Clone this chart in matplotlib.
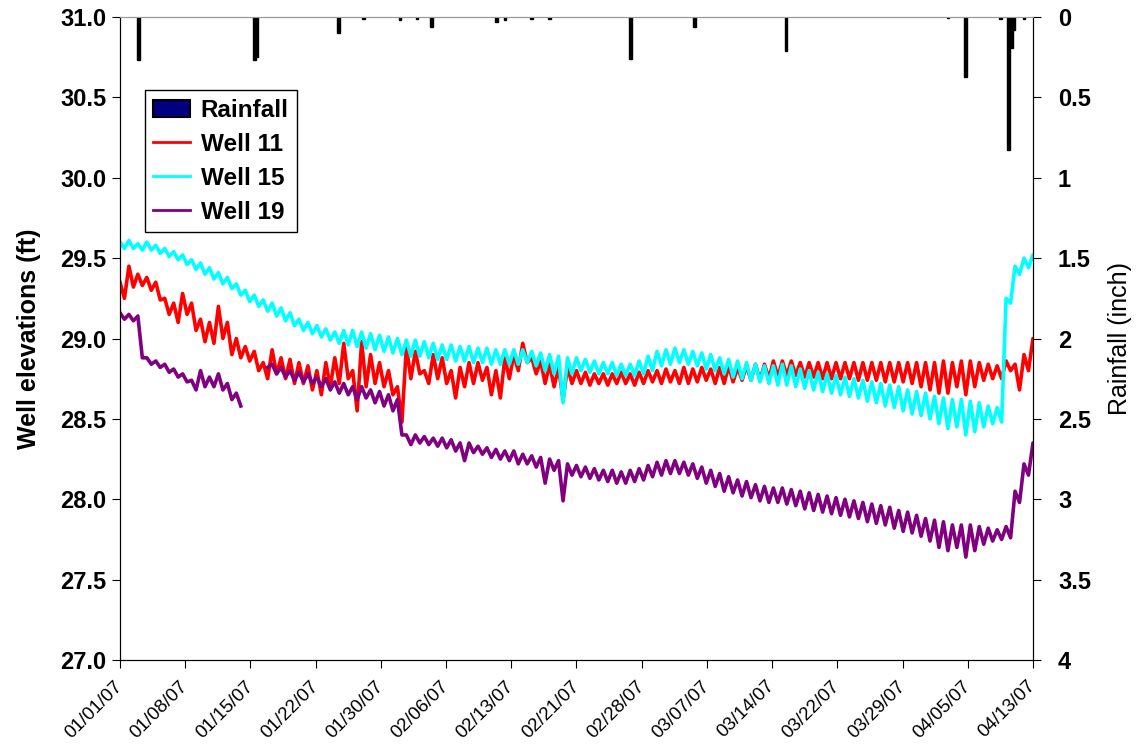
"""
Well elevations vs. rainfall, Jan - Apr 2007
"""
import numpy as np
import matplotlib
matplotlib.use('Agg')
import matplotlib.pyplot as plt
from matplotlib.patches import Patch
from matplotlib.lines import Line2D

plt.rcParams['font.family'] = ['Liberation Sans', 'DejaVu Sans']

# x-axis tick labels (equally spaced over days 0..102)
tick_labels = ['01/01/07', '01/08/07', '01/15/07', '01/22/07', '01/30/07',
               '02/06/07', '02/13/07', '02/21/07', '02/28/07', '03/07/07',
               '03/14/07', '03/22/07', '03/29/07', '04/05/07', '04/13/07']

# days since 01/01/07
days = list(range(103))

# daily high / low readings (ft)
w11_hi = [29.35, 29.45, 29.40, 29.38, 29.35, 29.25, 29.22, 29.28, 29.22, 29.12,
          29.10, 29.20, 29.10, 29.00, 28.95, 28.92, 28.85, 28.93, 28.88, 28.87,
          28.85, 28.83, 28.80, 28.85, 28.88, 28.97, 28.80, 28.98, 28.90, 28.85,
          28.80, 28.70, 28.95, 28.92, 28.80, 28.90, 28.88, 28.80, 28.82, 28.85,
          28.85, 28.82, 28.80, 28.88, 28.90, 28.97, 28.88, 28.86, 28.84, 28.82,
          28.82, 28.80, 28.79, 28.78, 28.78, 28.78, 28.79, 28.78, 28.79, 28.80,
          28.80, 28.81, 28.80, 28.82, 28.81, 28.82, 28.81, 28.82, 28.83, 28.82,
          28.83, 28.84, 28.84, 28.86, 28.86, 28.86, 28.85, 28.85, 28.85, 28.85,
          28.85, 28.85, 28.85, 28.85, 28.85, 28.85, 28.85, 28.85, 28.85, 28.85,
          28.85, 28.85, 28.86, 28.85, 28.86, 28.86, 28.85, 28.84, 28.83, 28.86,
          28.84, 28.90, 29.00]
w11_lo = [29.25, 29.32, 29.33, 29.30, 29.24, 29.15, 29.10, 29.15, 29.05, 28.98,
          28.97, 29.00, 28.90, 28.88, 28.86, 28.80, 28.75, 28.78, 28.75, 28.72,
          28.72, 28.68, 28.65, 28.70, 28.72, 28.75, 28.55, 28.70, 28.72, 28.70,
          28.65, 28.48, 28.75, 28.78, 28.72, 28.75, 28.72, 28.63, 28.70, 28.72,
          28.74, 28.65, 28.63, 28.75, 28.80, 28.85, 28.78, 28.72, 28.70, 28.62,
          28.72, 28.72, 28.71, 28.72, 28.71, 28.72, 28.72, 28.71, 28.72, 28.73,
          28.72, 28.73, 28.72, 28.72, 28.73, 28.74, 28.72, 28.72, 28.73, 28.74,
          28.74, 28.74, 28.75, 28.76, 28.77, 28.77, 28.76, 28.76, 28.75, 28.75,
          28.75, 28.75, 28.74, 28.74, 28.74, 28.73, 28.73, 28.73, 28.72, 28.70,
          28.68, 28.66, 28.66, 28.70, 28.65, 28.70, 28.74, 28.75, 28.75, 28.80,
          28.68, 28.80, 28.95]

w15_hi = [29.60, 29.61, 29.59, 29.60, 29.58, 29.56, 29.54, 29.52, 29.49, 29.47,
          29.44, 29.41, 29.38, 29.34, 29.30, 29.27, 29.24, 29.22, 29.19, 29.16,
          29.12, 29.10, 29.08, 29.06, 29.04, 29.05, 29.05, 29.04, 29.03, 29.02,
          29.01, 29.00, 28.99, 28.99, 28.98, 28.97, 28.96, 28.96, 28.95, 28.95,
          28.94, 28.94, 28.93, 28.93, 28.93, 28.93, 28.92, 28.91, 28.90, 28.89,
          28.88, 28.88, 28.87, 28.86, 28.85, 28.85, 28.84, 28.84, 28.86, 28.89,
          28.92, 28.93, 28.94, 28.93, 28.92, 28.91, 28.90, 28.88, 28.87, 28.86,
          28.85, 28.84, 28.83, 28.83, 28.84, 28.83, 28.81, 28.80, 28.79, 28.78,
          28.77, 28.76, 28.75, 28.74, 28.73, 28.72, 28.71, 28.70, 28.68, 28.67,
          28.66, 28.64, 28.63, 28.62, 28.62, 28.61, 28.60, 28.58, 28.57, 29.25,
          29.45, 29.50, 29.52]
w15_lo = [29.56, 29.56, 29.55, 29.55, 29.53, 29.51, 29.49, 29.46, 29.43, 29.40,
          29.37, 29.34, 29.31, 29.27, 29.23, 29.20, 29.17, 29.14, 29.11, 29.08,
          29.05, 29.03, 29.01, 28.99, 28.97, 28.96, 28.95, 28.94, 28.93, 28.92,
          28.91, 28.90, 28.89, 28.89, 28.88, 28.87, 28.87, 28.86, 28.86, 28.85,
          28.85, 28.84, 28.84, 28.84, 28.84, 28.85, 28.83, 28.80, 28.78, 28.60,
          28.78, 28.80, 28.79, 28.78, 28.78, 28.77, 28.77, 28.77, 28.78, 28.80,
          28.83, 28.84, 28.85, 28.84, 28.83, 28.81, 28.80, 28.78, 28.76, 28.75,
          28.74, 28.73, 28.72, 28.71, 28.71, 28.70, 28.69, 28.68, 28.67, 28.66,
          28.65, 28.64, 28.63, 28.61, 28.60, 28.58, 28.57, 28.55, 28.53, 28.52,
          28.50, 28.47, 28.44, 28.45, 28.40, 28.42, 28.45, 28.47, 28.48, 29.22,
          29.40, 29.44, 29.50]

nan = float('nan')
w19_hi = [29.16, 29.15, 29.14, 28.88, 28.86, 28.84, 28.81, 28.78, 28.74, 28.80,
          28.76, 28.78, 28.72, 28.66, nan, nan, nan, 28.84, 28.82, 28.80,
          28.79, 28.78, 28.76, 28.75, 28.73, 28.72, 28.70, 28.70, 28.68, 28.67,
          28.65, 28.62, 28.40, 28.40, 28.39, 28.38, 28.38, 28.37, 28.35, 28.35,
          28.33, 28.32, 28.31, 28.30, 28.30, 28.28, 28.27, 28.26, 28.25, 28.24,
          28.22, 28.21, 28.20, 28.19, 28.18, 28.18, 28.17, 28.18, 28.19, 28.21,
          28.23, 28.24, 28.24, 28.23, 28.22, 28.20, 28.18, 28.16, 28.14, 28.12,
          28.11, 28.09, 28.08, 28.07, 28.07, 28.06, 28.05, 28.04, 28.03, 28.02,
          28.01, 28.00, 27.99, 27.98, 27.97, 27.96, 27.95, 27.93, 27.92, 27.90,
          27.88, 27.87, 27.86, 27.84, 27.84, 27.84, 27.83, 27.82, 27.81, 27.83,
          28.05, 28.22, 28.35]
w19_lo = [29.12, 29.11, 28.88, 28.84, 28.82, 28.79, 28.76, 28.73, 28.68, 28.70,
          28.70, 28.68, 28.62, 28.58, nan, nan, 28.82, 28.78, 28.76, 28.74,
          28.73, 28.72, 28.70, 28.68, 28.66, 28.65, 28.62, 28.63, 28.60, 28.58,
          28.55, 28.40, 28.34, 28.35, 28.34, 28.33, 28.32, 28.30, 28.24, 28.29,
          28.28, 28.26, 28.25, 28.24, 28.22, 28.22, 28.20, 28.10, 28.18, 27.99,
          28.15, 28.14, 28.13, 28.12, 28.11, 28.10, 28.10, 28.11, 28.12, 28.14,
          28.15, 28.16, 28.16, 28.15, 28.13, 28.10, 28.08, 28.05, 28.04, 28.02,
          28.01, 27.99, 27.98, 27.98, 27.97, 27.96, 27.94, 27.93, 27.92, 27.91,
          27.90, 27.89, 27.88, 27.86, 27.85, 27.84, 27.82, 27.80, 27.79, 27.77,
          27.74, 27.70, 27.68, 27.70, 27.64, 27.68, 27.72, 27.74, 27.75, 27.76,
          27.98, 28.15, 28.30]

# rainfall events (day, inches)
rain_days = [2.1, 15.0, 15.3, 24.4, 27.2, 31.3, 33.2, 34.8, 42.1, 43.0,
             46.0, 48.0, 57.0, 64.2, 74.4, 92.5, 94.5, 98.4, 99.3, 99.6,
             99.8, 101.0]
rain_amt = [0.27, 0.27, 0.25, 0.10, 0.01, 0.02, 0.01, 0.06, 0.03, 0.02,
            0.01, 0.01, 0.26, 0.06, 0.21, 0.005, 0.37, 0.01, 0.83, 0.19,
            0.08, 0.01]


def zigzag(hi, lo):
    # high reading at the start of each day, low half a day later
    x, y = [], []
    for d, h, l in zip(days, hi, lo):
        x += [d, d + 0.5]
        y += [h, l]
    return np.array(x), np.array(y)


fig = plt.figure(figsize=(11.36, 7.47), dpi=100)
ax = fig.add_axes([0.1056, 0.1165, 0.8037, 0.8607])

series = [(w11_hi, w11_lo, 'red', 'Well 11'),
          (w15_hi, w15_lo, 'cyan', 'Well 15'),
          (w19_hi, w19_lo, '#800080', 'Well 19')]
for hi, lo, col, lab in series:
    x, y = zigzag(hi, lo)
    ax.plot(x, y, color=col, lw=2.6, label=lab)

ax.set_xlim(0, 102)
ax.set_ylim(27.0, 31.0)
ax.set_yticks(np.arange(27.0, 31.01, 0.5))
ax.set_yticklabels([f'{v:.1f}' for v in np.arange(27.0, 31.01, 0.5)],
                   fontsize=17, fontweight='bold')
ax.set_xticks(np.linspace(0, 102, len(tick_labels)))
ax.set_xticklabels(tick_labels, rotation=45, ha='right', va='center',
                   rotation_mode='anchor', fontsize=13.5)
ax.tick_params(axis='x', direction='out', length=6, pad=11)
ax.tick_params(axis='y', direction='out', length=6, pad=4)
ax.set_ylabel('Well elevations (ft)', fontsize=18, fontweight='bold', labelpad=14)
ax.spines['top'].set_color('#999999')

# rainfall on inverted right axis
ax2 = ax.twinx()
ax2.bar(rain_days, rain_amt, width=0.3, color='black', edgecolor='black',
        linewidth=1.0)
ax2.set_ylim(4, 0)
ax2.set_xlim(0, 102)
rt = np.arange(0, 4.01, 0.5)
ax2.set_yticks(rt)
ax2.set_yticklabels([f'{v:g}' for v in rt], fontsize=17, fontweight='bold')
ax2.tick_params(axis='y', direction='out', length=6, pad=12)
ax2.set_ylabel('Rainfall (inch)', fontsize=18, labelpad=12)
ax2.spines['top'].set_color('#999999')

handles = [Patch(facecolor='#000080', edgecolor='black', linewidth=1.5),
           Line2D([], [], color='red', lw=2),
           Line2D([], [], color='cyan', lw=2),
           Line2D([], [], color='#800080', lw=2)]
leg = ax2.legend(handles, ['Rainfall', 'Well 11', 'Well 15', 'Well 19'],
                 loc='upper left', bbox_to_anchor=(0.027, 0.886),
                 prop={'size': 17.5, 'weight': 'bold'}, frameon=True,
                 fancybox=False, edgecolor='black', framealpha=1,
                 handlelength=1.5, handletextpad=0.45, labelspacing=0.45,
                 borderpad=0.35, borderaxespad=0)
leg.get_frame().set_linewidth(1.0)

fig.savefig('out.png', dpi=100)
plt.close(fig)
